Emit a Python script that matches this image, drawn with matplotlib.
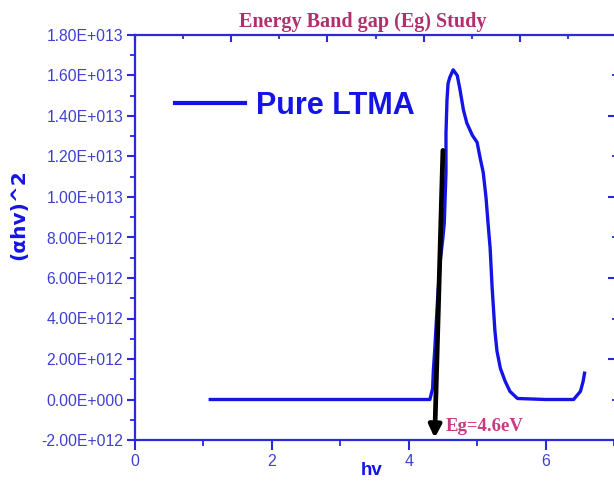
import matplotlib
matplotlib.use("Agg")
import matplotlib.pyplot as plt
from matplotlib.ticker import MultipleLocator, FuncFormatter, FixedLocator

# ---- data ----
hv = [1.10, 2.00, 3.00, 4.00, 4.31, 4.35, 4.36, 4.38, 4.42, 4.46, 4.50, 4.52,
      4.545, 4.545, 4.56, 4.575, 4.60, 4.65, 4.71, 4.75, 4.80, 4.85, 4.93,
      5.00, 5.04, 5.09, 5.13, 5.16, 5.19, 5.22, 5.26, 5.29, 5.34, 5.41, 5.48,
      5.59, 6.00, 6.41, 6.51, 6.55, 6.57]
ahv2 = [0.0, 0.0, 0.0, 0.0, 0.0, 0.55e12, 1.4e12, 2.4e12, 4.8e12, 6.8e12, 8.0e12, 8.7e12,
        11.2e12, 13.15e12, 14.8e12, 15.6e12, 15.9e12, 16.28e12, 16.0e12, 15.3e12,
        14.3e12, 13.65e12, 13.05e12, 12.7e12, 12.0e12, 11.2e12, 9.98e12, 8.7e12,
        7.5e12, 5.5e12, 3.4e12, 2.4e12, 1.54e12, 0.9e12, 0.4e12, 0.05e12, 0.0,
        0.0, 0.4e12, 0.9e12, 1.3e12]

series_label = "Pure LTMA"
title_text = "Energy Band gap (Eg) Study"
eg_text = "Eg=4.6eV"
arrow_start = (4.50, 1.23e13)
arrow_end = (4.38, -1.9e12)

xlim = (0, 7.03)
ylim = (-2e12, 1.8e13)

BLUE = "#1414e6"
AXBLUE = "#2a2ad8"
LBLUE = "#4040d0"

fig = plt.figure(figsize=(6.14, 4.86), dpi=100)
ax = fig.add_axes([135/614, 1-440/486, (616-135)/614, (440-35)/486])

ax.plot(hv, ahv2, color=BLUE, lw=2.4, label=series_label, solid_joinstyle='round')
ax.set_xlim(*xlim)
ax.set_ylim(*ylim)

def sci_fmt(v, pos):
    s = f"{v:.2E}"
    m, e = s.split("E")
    ei = int(e)
    sign = "-" if ei < 0 else "+"
    return f"{m}E{sign}{abs(ei):03d}"

# top ticks (separate division)
axt = ax.twiny()
axt.set_xlim(0, 5)
axt.xaxis.set_major_locator(MultipleLocator(1))
axt.xaxis.set_minor_locator(MultipleLocator(0.5))
axt.tick_params(axis="x", which="major", direction="in", length=5, width=1.5,
                color=AXBLUE, labeltop=False)
axt.tick_params(axis="x", which="minor", direction="in", length=3, width=1.3, color=AXBLUE)
for sp in axt.spines.values():
    sp.set_visible(False)

# right ticks
axr = ax.twinx()
axr.set_ylim(*ylim)
axr.yaxis.set_major_locator(FixedLocator([2e12, 6e12, 10e12, 14e12]))
axr.yaxis.set_minor_locator(FixedLocator([0, 4e12, 8e12, 12e12, 16e12]))
axr.tick_params(axis="y", which="major", direction="in", length=6, width=1.5,
                color=AXBLUE, labelright=False)
axr.tick_params(axis="y", which="minor", direction="in", length=3, width=1.3, color=AXBLUE)
for sp in axr.spines.values():
    sp.set_visible(False)

ax.yaxis.set_major_locator(MultipleLocator(2e12))
ax.yaxis.set_minor_locator(MultipleLocator(1e12))
ax.yaxis.set_major_formatter(FuncFormatter(sci_fmt))
ax.xaxis.set_major_locator(MultipleLocator(2))
ax.xaxis.set_minor_locator(MultipleLocator(1))
ax.yaxis.set_ticks_position("left")
ax.xaxis.set_ticks_position("bottom")

for sp in ax.spines.values():
    sp.set_color(AXBLUE)
    sp.set_linewidth(1.6)

ax.tick_params(axis="both", which="major", direction="out", color=AXBLUE,
               width=1.5, labelcolor=LBLUE, labelsize=11.3)
ax.tick_params(axis="y", which="major", length=6, pad=2.5)
ax.tick_params(axis="y", which="minor", direction="out", length=3.5, width=1.3, color=AXBLUE)
ax.tick_params(axis="x", which="major", length=7, pad=3, labelsize=11.5)
ax.tick_params(axis="x", which="minor", direction="out", length=4.5, width=1.3, color=AXBLUE)
for lab in ax.get_xticklabels() + ax.get_yticklabels():
    lab.set_fontfamily("Liberation Sans")

ax.set_xlabel("hv", fontsize=13.5, fontweight="bold", color=BLUE,
              fontfamily="Liberation Sans")
ax.xaxis.set_label_coords((372-135)/481, (440-470)/405)
ax.xaxis.label.set_va("center")
ax.set_ylabel("(αhv)^2", fontsize=14.5, fontweight="bold", color=BLUE,
              fontfamily="DejaVu Sans")
ax.yaxis.set_label_coords((19-135)/481, (440-215)/405)
ax.yaxis.label.set_va("center")

ax.annotate("", xy=arrow_end, xytext=arrow_start,
            arrowprops=dict(arrowstyle="-|>", color="black", lw=3.4,
                            mutation_scale=18, shrinkA=0, shrinkB=0))

ax.text(4.545, -1.34e12, eg_text, fontsize=13.5, fontweight="bold",
        color="#c83a80", fontfamily="Liberation Serif", va="center", ha="left")

fig.text(363/614, 1-22/486, title_text, fontsize=14.5, fontweight="bold",
         color="#b0306e", fontfamily="Liberation Serif", ha="center", va="center")

leg = ax.legend(loc="center left", bbox_to_anchor=(175/614, 1-106/486),
                bbox_transform=fig.transFigure, frameon=False,
                prop=dict(family="Liberation Sans", weight="bold", size=22),
                handlelength=2.3, handletextpad=0.35, borderpad=0, borderaxespad=0)
for t in leg.get_texts():
    t.set_color(BLUE)
for l in leg.get_lines():
    l.set_linewidth(3)

fig.savefig("out.png", dpi=100)
